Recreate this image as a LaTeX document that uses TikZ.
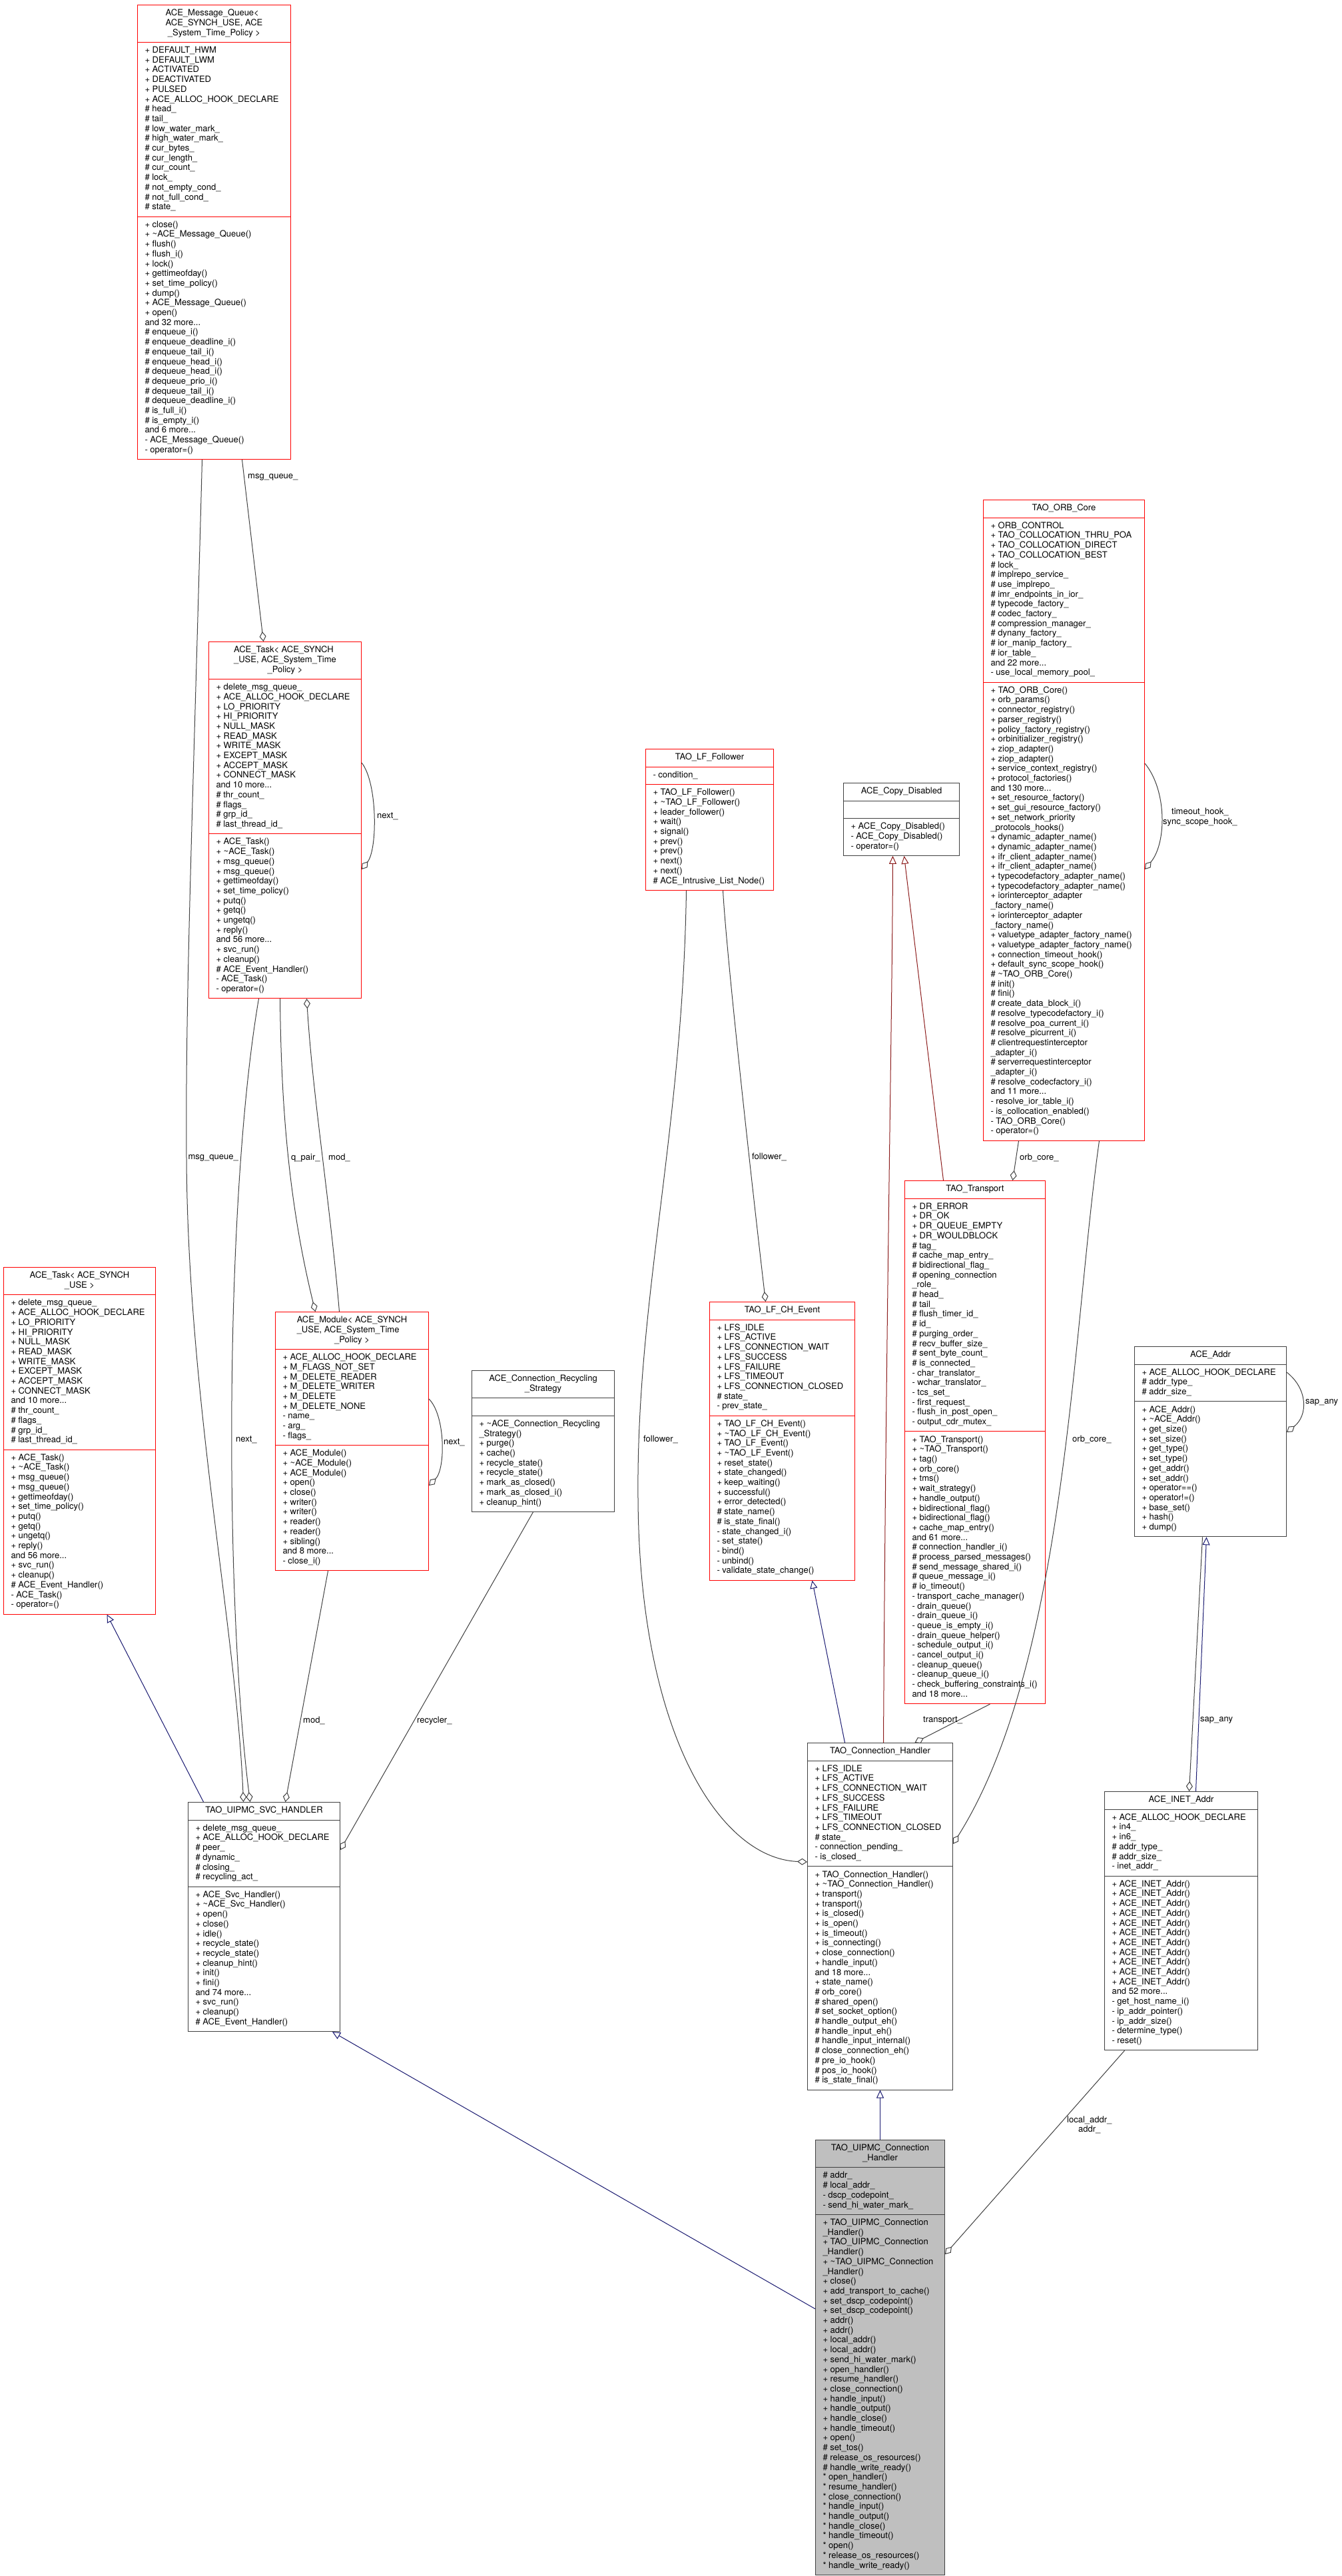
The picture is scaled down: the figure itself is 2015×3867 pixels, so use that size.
\documentclass[tikz,border=0pt]{standalone}
\usepackage{fontspec}
\setmainfont{TeX Gyre Heros}
\usetikzlibrary{shapes.multipart,arrows.meta,calc}

\definecolor{edgegray}{RGB}{64,64,64}
\definecolor{inhblue}{RGB}{25,25,112}
\definecolor{privred}{RGB}{139,26,26}
\definecolor{curfill}{RGB}{191,191,191}
\definecolor{truncred}{RGB}{255,0,0}

\newcommand\dfont{\fontsize{13}{14.7}\selectfont}
\newcommand\tld{\textasciitilde}

\tikzset{
  cls/.style={rectangle split, rectangle split parts=3,
    rectangle split part align={center,left,left},
    draw=edgegray, fill=white, line width=1pt, anchor=north west,
    align=left, inner xsep=11pt, inner ysep=5.4pt, font=\dfont},
  clstrunc/.style={cls, draw=truncred},
  clsmain/.style={cls, fill=curfill},
  lbl/.style={font=\dfont, inner sep=0pt},
  memberof/.style={draw=edgegray, line width=1pt, -{Diamond[open,length=15pt,width=10pt]}},
  pubinh/.style={draw=inhblue, line width=1pt, -{Triangle[open,length=12pt,width=11pt]}},
  privinh/.style={draw=privred, line width=1pt, -{Triangle[open,length=12pt,width=11pt]}}
}

\begin{document}
\catcode`\_=12
\begin{tikzpicture}[x=1pt,y=-1pt]
\useasboundingbox (0,0) rectangle (2015,3867);

% classes, top to bottom
\node[clstrunc, minimum width=230] (msgq) at (206,7) {\strut ACE_Message_Queue<\\ACE_SYNCH_USE, ACE\\\hfil _System_Time_Policy >\strut
  \nodepart{two}\strut + DEFAULT_HWM\\+ DEFAULT_LWM\\+ ACTIVATED\\+ DEACTIVATED\\+ PULSED\\+ ACE_ALLOC_HOOK_DECLARE\\\# head_\\\# tail_\\\# low_water_mark_\\\# high_water_mark_\\\# cur_bytes_\\\# cur_length_\\\# cur_count_\\\# lock_\\\# not_empty_cond_\\\# not_full_cond_\\\# state_\strut
  \nodepart{three}\strut + close()\\+ \tld{}ACE_Message_Queue()\\+ flush()\\+ flush_i()\\+ lock()\\+ gettimeofday()\\+ set_time_policy()\\+ dump()\\+ ACE_Message_Queue()\\+ open()\\and 32 more...\\\# enqueue_i()\\\# enqueue_deadline_i()\\\# enqueue_tail_i()\\\# enqueue_head_i()\\\# dequeue_head_i()\\\# dequeue_prio_i()\\\# dequeue_tail_i()\\\# dequeue_deadline_i()\\\# is_full_i()\\\# is_empty_i()\\and 6 more...\\- ACE_Message_Queue()\\- operator=()\strut};

\node[clstrunc, minimum width=229] (taskst) at (313,963) {\strut ACE_Task< ACE_SYNCH\\_USE, ACE_System_Time\\\hfil _Policy >\strut
  \nodepart{two}\strut + delete_msg_queue_\\+ ACE_ALLOC_HOOK_DECLARE\\+ LO_PRIORITY\\+ HI_PRIORITY\\+ NULL_MASK\\+ READ_MASK\\+ WRITE_MASK\\+ EXCEPT_MASK\\+ ACCEPT_MASK\\+ CONNECT_MASK\\and 10 more...\\\# thr_count_\\\# flags_\\\# grp_id_\\\# last_thread_id_\strut
  \nodepart{three}\strut + ACE_Task()\\+ \tld{}ACE_Task()\\+ msg_queue()\\+ msg_queue()\\+ gettimeofday()\\+ set_time_policy()\\+ putq()\\+ getq()\\+ ungetq()\\+ reply()\\and 56 more...\\+ svc_run()\\+ cleanup()\\\# ACE_Event_Handler()\\- ACE_Task()\\- operator=()\strut};

\node[clstrunc, minimum width=192] (lffol) at (969,1124) {\strut TAO_LF_Follower\strut
  \nodepart{two}\strut - condition_\strut
  \nodepart{three}\strut + TAO_LF_Follower()\\+ \tld{}TAO_LF_Follower()\\+ leader_follower()\\+ wait()\\+ signal()\\+ prev()\\+ prev()\\+ next()\\+ next()\\\# ACE_Intrusive_List_Node()\strut};

\node[cls, minimum width=174] (copydis) at (1266,1175) {\strut ACE_Copy_Disabled\strut
  \nodepart{two}\strut
  \nodepart{three}\strut + ACE_Copy_Disabled()\\- ACE_Copy_Disabled()\\- operator=()\strut};

\node[clstrunc, minimum width=242] (orbcore) at (1476,750) {\strut TAO_ORB_Core\strut
  \nodepart{two}\strut + ORB_CONTROL\\+ TAO_COLLOCATION_THRU_POA\\+ TAO_COLLOCATION_DIRECT\\+ TAO_COLLOCATION_BEST\\\# lock_\\\# implrepo_service_\\\# use_implrepo_\\\# imr_endpoints_in_ior_\\\# typecode_factory_\\\# codec_factory_\\\# compression_manager_\\\# dynany_factory_\\\# ior_manip_factory_\\\# ior_table_\\and 22 more...\\- use_local_memory_pool_\strut
  \nodepart{three}\strut + TAO_ORB_Core()\\+ orb_params()\\+ connector_registry()\\+ parser_registry()\\+ policy_factory_registry()\\+ orbinitializer_registry()\\+ ziop_adapter()\\+ ziop_adapter()\\+ service_context_registry()\\+ protocol_factories()\\and 130 more...\\+ set_resource_factory()\\+ set_gui_resource_factory()\\+ set_network_priority\\_protocols_hooks()\\+ dynamic_adapter_name()\\+ dynamic_adapter_name()\\+ ifr_client_adapter_name()\\+ ifr_client_adapter_name()\\+ typecodefactory_adapter_name()\\+ typecodefactory_adapter_name()\\+ iorinterceptor_adapter\\_factory_name()\\+ iorinterceptor_adapter\\_factory_name()\\+ valuetype_adapter_factory_name()\\+ valuetype_adapter_factory_name()\\+ connection_timeout_hook()\\+ default_sync_scope_hook()\\\# \tld{}TAO_ORB_Core()\\\# init()\\\# fini()\\\# create_data_block_i()\\\# resolve_typecodefactory_i()\\\# resolve_poa_current_i()\\\# resolve_picurrent_i()\\\# clientrequestinterceptor\\_adapter_i()\\\# serverrequestinterceptor\\_adapter_i()\\\# resolve_codecfactory_i()\\and 11 more...\\- resolve_ior_table_i()\\- is_collocation_enabled()\\- TAO_ORB_Core()\\- operator=()\strut};

\node[clstrunc, minimum width=228] (tasku) at (5,1902) {\strut ACE_Task< ACE_SYNCH\\\hfil _USE >\strut
  \nodepart{two}\strut + delete_msg_queue_\\+ ACE_ALLOC_HOOK_DECLARE\\+ LO_PRIORITY\\+ HI_PRIORITY\\+ NULL_MASK\\+ READ_MASK\\+ WRITE_MASK\\+ EXCEPT_MASK\\+ ACCEPT_MASK\\+ CONNECT_MASK\\and 10 more...\\\# thr_count_\\\# flags_\\\# grp_id_\\\# last_thread_id_\strut
  \nodepart{three}\strut + ACE_Task()\\+ \tld{}ACE_Task()\\+ msg_queue()\\+ msg_queue()\\+ gettimeofday()\\+ set_time_policy()\\+ putq()\\+ getq()\\+ ungetq()\\+ reply()\\and 56 more...\\+ svc_run()\\+ cleanup()\\\# ACE_Event_Handler()\\- ACE_Task()\\- operator=()\strut};

\node[clstrunc, minimum width=230] (module) at (413,1969) {\strut ACE_Module< ACE_SYNCH\\_USE, ACE_System_Time\\\hfil _Policy >\strut
  \nodepart{two}\strut + ACE_ALLOC_HOOK_DECLARE\\+ M_FLAGS_NOT_SET\\+ M_DELETE_READER\\+ M_DELETE_WRITER\\+ M_DELETE\\+ M_DELETE_NONE\\- name_\\- arg_\\- flags_\strut
  \nodepart{three}\strut + ACE_Module()\\+ \tld{}ACE_Module()\\+ ACE_Module()\\+ open()\\+ close()\\+ writer()\\+ writer()\\+ reader()\\+ reader()\\+ sibling()\\and 8 more...\\- close_i()\strut};

\node[cls, minimum width=214] (recyc) at (708,2057) {\strut ACE_Connection_Recycling\\\hfil _Strategy\strut
  \nodepart{two}\strut
  \nodepart{three}\strut + \tld{}ACE_Connection_Recycling\\_Strategy()\\+ purge()\\+ cache()\\+ recycle_state()\\+ recycle_state()\\+ mark_as_closed()\\+ mark_as_closed_i()\\+ cleanup_hint()\strut};

\node[clstrunc, minimum width=218] (lfch) at (1065,1954) {\strut TAO_LF_CH_Event\strut
  \nodepart{two}\strut + LFS_IDLE\\+ LFS_ACTIVE\\+ LFS_CONNECTION_WAIT\\+ LFS_SUCCESS\\+ LFS_FAILURE\\+ LFS_TIMEOUT\\+ LFS_CONNECTION_CLOSED\\\# state_\\- prev_state_\strut
  \nodepart{three}\strut + TAO_LF_CH_Event()\\+ \tld{}TAO_LF_CH_Event()\\+ TAO_LF_Event()\\+ \tld{}TAO_LF_Event()\\+ reset_state()\\+ state_changed()\\+ keep_waiting()\\+ successful()\\+ error_detected()\\\# state_name()\\\# is_state_final()\\- state_changed_i()\\- set_state()\\- bind()\\- unbind()\\- validate_state_change()\strut};

\node[clstrunc, minimum width=211] (transport) at (1358,1772) {\strut TAO_Transport\strut
  \nodepart{two}\strut + DR_ERROR\\+ DR_OK\\+ DR_QUEUE_EMPTY\\+ DR_WOULDBLOCK\\\# tag_\\\# cache_map_entry_\\\# bidirectional_flag_\\\# opening_connection\\_role_\\\# head_\\\# tail_\\\# flush_timer_id_\\\# id_\\\# purging_order_\\\# recv_buffer_size_\\\# sent_byte_count_\\\# is_connected_\\- char_translator_\\- wchar_translator_\\- tcs_set_\\- first_request_\\- flush_in_post_open_\\- output_cdr_mutex_\strut
  \nodepart{three}\strut + TAO_Transport()\\+ \tld{}TAO_Transport()\\+ tag()\\+ orb_core()\\+ tms()\\+ wait_strategy()\\+ handle_output()\\+ bidirectional_flag()\\+ bidirectional_flag()\\+ cache_map_entry()\\and 61 more...\\\# connection_handler_i()\\\# process_parsed_messages()\\\# send_message_shared_i()\\\# queue_message_i()\\\# io_timeout()\\- transport_cache_manager()\\- drain_queue()\\- drain_queue_i()\\- queue_is_empty_i()\\- drain_queue_helper()\\- schedule_output_i()\\- cancel_output_i()\\- cleanup_queue()\\- cleanup_queue_i()\\- check_buffering_constraints_i()\\and 18 more...\strut};

\node[cls, minimum width=228] (aceaddr) at (1703,2021) {\strut ACE_Addr\strut
  \nodepart{two}\strut + ACE_ALLOC_HOOK_DECLARE\\\# addr_type_\\\# addr_size_\strut
  \nodepart{three}\strut + ACE_Addr()\\+ \tld{}ACE_Addr()\\+ get_size()\\+ set_size()\\+ get_type()\\+ set_type()\\+ get_addr()\\+ set_addr()\\+ operator==()\\+ operator!=()\\+ base_set()\\+ hash()\\+ dump()\strut};

\node[cls, minimum width=228] (svc) at (282,2705) {\strut TAO_UIPMC_SVC_HANDLER\strut
  \nodepart{two}\strut + delete_msg_queue_\\+ ACE_ALLOC_HOOK_DECLARE\\\# peer_\\\# dynamic_\\\# closing_\\\# recycling_act_\strut
  \nodepart{three}\strut + ACE_Svc_Handler()\\+ \tld{}ACE_Svc_Handler()\\+ open()\\+ close()\\+ idle()\\+ recycle_state()\\+ recycle_state()\\+ cleanup_hint()\\+ init()\\+ fini()\\and 74 more...\\+ svc_run()\\+ cleanup()\\\# ACE_Event_Handler()\strut};

\node[cls, minimum width=218] (connh) at (1212,2616) {\strut TAO_Connection_Handler\strut
  \nodepart{two}\strut + LFS_IDLE\\+ LFS_ACTIVE\\+ LFS_CONNECTION_WAIT\\+ LFS_SUCCESS\\+ LFS_FAILURE\\+ LFS_TIMEOUT\\+ LFS_CONNECTION_CLOSED\\\# state_\\- connection_pending_\\- is_closed_\strut
  \nodepart{three}\strut + TAO_Connection_Handler()\\+ \tld{}TAO_Connection_Handler()\\+ transport()\\+ transport()\\+ is_closed()\\+ is_open()\\+ is_timeout()\\+ is_connecting()\\+ close_connection()\\+ handle_input()\\and 18 more...\\+ state_name()\\\# orb_core()\\\# shared_open()\\\# set_socket_option()\\\# handle_output_eh()\\\# handle_input_eh()\\\# handle_input_internal()\\\# close_connection_eh()\\\# pre_io_hook()\\\# pos_io_hook()\\\# is_state_final()\strut};

\node[cls, minimum width=230] (inet) at (1658,2689) {\strut ACE_INET_Addr\strut
  \nodepart{two}\strut + ACE_ALLOC_HOOK_DECLARE\\+ in4_\\+ in6_\\\# addr_type_\\\# addr_size_\\- inet_addr_\strut
  \nodepart{three}\strut + ACE_INET_Addr()\\+ ACE_INET_Addr()\\+ ACE_INET_Addr()\\+ ACE_INET_Addr()\\+ ACE_INET_Addr()\\+ ACE_INET_Addr()\\+ ACE_INET_Addr()\\+ ACE_INET_Addr()\\+ ACE_INET_Addr()\\+ ACE_INET_Addr()\\+ ACE_INET_Addr()\\and 52 more...\\- get_host_name_i()\\- ip_addr_pointer()\\- ip_addr_size()\\- determine_type()\\- reset()\strut};

\node[clsmain, minimum width=194] (uipmc) at (1224,3212) {\strut TAO_UIPMC_Connection\\\hfil _Handler\strut
  \nodepart{two}\strut \# addr_\\\# local_addr_\\- dscp_codepoint_\\- send_hi_water_mark_\strut
  \nodepart{three}\strut + TAO_UIPMC_Connection\\_Handler()\\+ TAO_UIPMC_Connection\\_Handler()\\+ \tld{}TAO_UIPMC_Connection\\_Handler()\\+ close()\\+ add_transport_to_cache()\\+ set_dscp_codepoint()\\+ set_dscp_codepoint()\\+ addr()\\+ addr()\\+ local_addr()\\+ local_addr()\\+ send_hi_water_mark()\\+ open_handler()\\+ resume_handler()\\+ close_connection()\\+ handle_input()\\+ handle_output()\\+ handle_close()\\+ handle_timeout()\\+ open()\\\# set_tos()\\\# release_os_resources()\\\# handle_write_ready()\\* open_handler()\\* resume_handler()\\* close_connection()\\* handle_input()\\* handle_output()\\* handle_close()\\* handle_timeout()\\* open()\\* release_os_resources()\\* handle_write_ready()\strut};

% members
\draw[memberof] ($(msgq.south)+(42,0)$) -- ($(taskst.north)+(-32.5,0)$);
\draw[memberof] ($(msgq.south)+(-18,0)$) .. controls (290,1200) and (278,1500) .. (280,1738)
  .. controls (282,2100) and (355,2450) .. ($(svc.north)+(-31,0)$);
\draw[memberof] ($(taskst.south)+(-39.5,0)$) .. controls (337,1800) and (337,2400) .. ($(svc.north)+(-21,0)$);
\draw[memberof] ($(taskst.south)+(-7.5,0)$) .. controls (422,1650) and (432,1800) .. ($(module.north)+(-55,0)$);
\draw[memberof] ($(module.north)+(-19,0)$) .. controls (495,1800) and (470,1650) .. ($(taskst.south)+(32.5,0)$);
\draw[memberof] ($(module.south)+(-36,0)$) -- ($(svc.north)+(32,0)$);
\draw[memberof] ($(taskst.north east)+(0,182)$) .. controls +(24,30) and +(24,-30) .. ($(taskst.north east)+(0,342)$);
\draw[memberof] ($(module.north east)+(0,131)$) .. controls +(25,25) and +(25,-25) .. ($(module.north east)+(0,261)$);
\draw[memberof] ($(recyc.south)+(-15,0)$) -- ($(svc.north east)+(0,72)$);
\draw[memberof] ($(lffol.south)+(20,0)$) .. controls (1090,1420) and (1120,1700) .. ($(lfch.north)+(-25,0)$);
\draw[memberof] ($(lffol.south)+(-35,0)$) .. controls (1025,1700) and (955,1950) .. (958,2250)
  .. controls (960,2600) and (1080,2790) .. ($(connh.north west)+(0,179)$);
\draw[memberof] ($(orbcore.south)+(-68,0)$) -- ($(transport.north)+(56.5,0)$);
\draw[memberof] ($(orbcore.south)+(53,0)$) .. controls (1610,2000) and (1600,2500) .. ($(connh.north east)+(0,152)$);
\draw[memberof] ($(orbcore.north east)+(0,396)$) .. controls +(33,40) and +(33,-40) .. ($(orbcore.north east)+(0,555)$);
\draw[memberof] ($(transport.south)+(22.5,0)$) -- ($(connh.north)+(52,0)$);
\draw[memberof] ($(aceaddr.south)+(-12,0)$) -- ($(inet.north)+(12,0)$);
\draw[memberof] ($(aceaddr.north east)+(0,39)$) .. controls +(32,25) and +(32,-25) .. ($(aceaddr.north east)+(0,129)$);
\draw[memberof] ($(inet.south)+(-85,0)$) -- ($(uipmc.north east)+(0,172)$);

% inheritance
\draw[pubinh] ($(connh.north)+(-53,0)$) -- ($(lfch.south)+(45,0)$);
\draw[privinh] ($(connh.north)+(5,0)$) .. controls (1330,2000) and (1340,1500) .. ($(copydis.south)+(-13,0)$);
\draw[privinh] ($(transport.north)+(-47.5,0)$) -- ($(copydis.south)+(4,0)$);
\draw[pubinh] ($(inet.north)+(22,0)$) -- ($(aceaddr.south)+(-6,0)$);
\draw[pubinh] (uipmc.north) -- (connh.south);
\draw[pubinh] ($(uipmc.north west)+(0,254)$) -- ($(svc.south east)+(-12,0)$);
\draw[pubinh] ($(svc.north)+(-91,0)$) -- ($(tasku.south)+(41,0)$);

% edge labels
\node[lbl, anchor=west] (lmq1) at (372,716) {msg_queue_};
\node[lbl, anchor=east] (lmq2) at (358,1738) {msg_queue_};
\node[lbl, anchor=west] (lnext1) at (354,2161) {next_};
\node[lbl, anchor=west] (lqpair) at (437,1738) {q_pair_};
\node[lbl, anchor=west] (lmod1) at (493,1738) {mod_};
\node[lbl, anchor=west] (lmod2) at (455,2583) {mod_};
\node[lbl, anchor=west] (lnext2) at (566,1225) {next_};
\node[lbl, anchor=west] (lnext3) at (666,2165) {next_};
\node[lbl, anchor=west] (lrecyc) at (626,2583) {recycler_};
\node[lbl, anchor=west] (lfol1) at (1129,1737) {follower_};
\node[lbl, anchor=west] (lfol2) at (966,2161) {follower_};
\node[lbl, anchor=west] (lorb1) at (1531,1738) {orb_core_};
\node[lbl, anchor=west] (lorb2) at (1610,2161) {orb_core_};
\node[lbl, anchor=west, align=center] (lhook) at (1746,1227) {timeout_hook_\\sync_scope_hook_};
\node[lbl, anchor=west] (ltrans) at (1386,2583) {transport_};
\node[lbl, anchor=west] (lsap1) at (1802,2582) {sap_any};
\node[lbl, anchor=west] (lsap2) at (1960,2105) {sap_any};
\node[lbl, anchor=west, align=center] (laddr) at (1602,3190) {local_addr_\\addr_};

\end{tikzpicture}
\end{document}
